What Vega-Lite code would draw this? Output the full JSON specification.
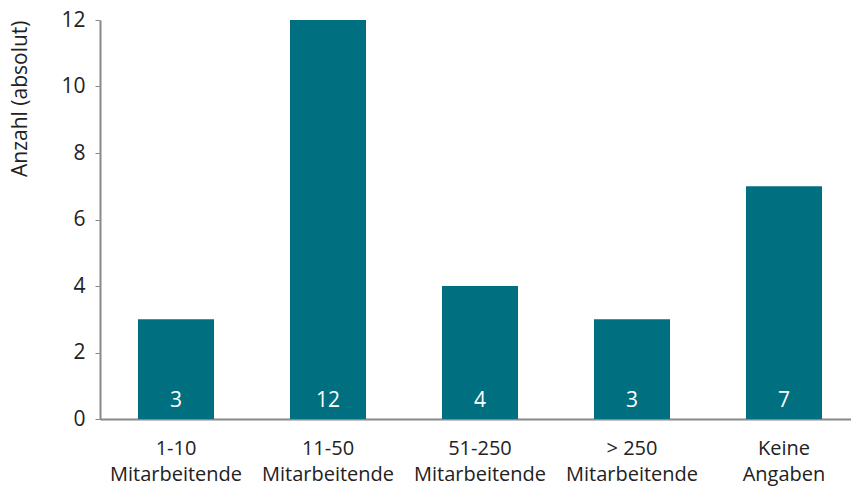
{
  "$schema": "https://vega.github.io/schema/vega-lite/v6.json",
  "width": 760,
  "height": 399,
  "autosize": {"type": "none"},
  "padding": {"left": 100, "top": 20, "right": 0, "bottom": 69},
  "background": "white",
  "config": {
    "view": {"stroke": null},
    "font": "Open Sans"
  },
  "data": {
    "values": [
      {"kategorie": "1-10|Mitarbeitende", "anzahl": 3},
      {"kategorie": "11-50|Mitarbeitende", "anzahl": 12},
      {"kategorie": "51-250|Mitarbeitende", "anzahl": 4},
      {"kategorie": "> 250|Mitarbeitende", "anzahl": 3},
      {"kategorie": "Keine|Angaben", "anzahl": 7}
    ]
  },
  "encoding": {
    "x": {
      "field": "kategorie",
      "type": "nominal",
      "sort": null,
      "scale": {"paddingInner": 0.5, "paddingOuter": 0.25},
      "axis": {
        "title": null,
        "labelAngle": 0,
        "labelExpr": "split(datum.label, '|')",
        "labelFontSize": 20,
        "labelColor": "#222222",
        "labelLineHeight": 26,
        "labelPadding": 19,
        "labelLimit": 300,
        "ticks": false,
        "domainColor": "#888888",
        "domainWidth": 2,
        "labelBaseline": "top"
      }
    },
    "y": {
      "field": "anzahl",
      "type": "quantitative",
      "scale": {"domain": [0, 12]},
      "axis": {
        "title": "Anzahl (absolut)",
        "titleFontSize": 21,
        "titleFontWeight": "normal",
        "titleColor": "#222222",
        "titlePadding": 30,
        "titleAnchor": "end",
        "values": [0, 2, 4, 6, 8, 10, 12],
        "grid": false,
        "labelFontSize": 21,
        "labelColor": "#222222",
        "labelPadding": 10,
        "tickSize": 5,
        "tickColor": "#888888",
        "domainColor": "#888888",
        "domainWidth": 2
      }
    }
  },
  "layer": [
    {"mark": {"type": "bar", "color": "#006F80"}},
    {
      "mark": {"type": "text", "color": "white", "fontSize": 21, "baseline": "alphabetic", "dy": -12},
      "encoding": {
        "y": {"datum": 0},
        "text": {"field": "anzahl", "type": "quantitative"}
      }
    }
  ]
}
